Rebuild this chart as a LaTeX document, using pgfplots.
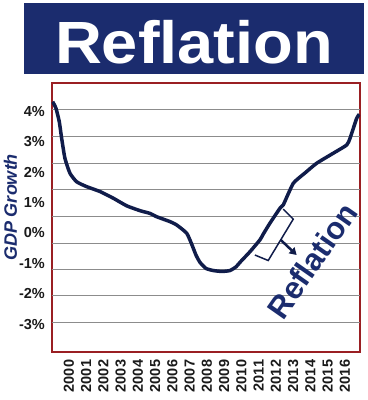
\documentclass[border=0pt]{standalone}
\usepackage{pgfplots}
\pgfplotsset{compat=1.18}
\usetikzlibrary{arrows.meta}
\usepackage{fontspec}
\setmainfont{Liberation Sans}
\definecolor{navy}{HTML}{1B2C6E}
\definecolor{curvecol}{HTML}{101C4A}
\definecolor{framecol}{HTML}{9A1F23}
\definecolor{gridcol}{HTML}{8C8C8C}
\definecolor{labcol}{HTML}{1A1A1A}
\begin{document}
\begin{tikzpicture}
\useasboundingbox (0bp,0bp) rectangle (368bp,400bp);
\fill[navy] (24.3bp,326bp) rectangle (364.3bp,397.3bp);
\node[anchor=base, text=white, inner sep=0pt] at (194bp,336.7bp) {\scalebox{1.09}[1]{\fontsize{59.6bp}{60bp}\selectfont\bfseries Reflation}};
\node[rotate=90, text=navy, inner sep=0pt] at (10.5bp,192.5bp) {\fontsize{18bp}{18bp}\selectfont\bfseries\itshape GDP Growth};
\begin{axis}[
  at={(51.7bp,48.3bp)}, anchor=south west,
  scale only axis, width=308.3bp, height=268.7bp,
  xmin=1999, xmax=2016.87, ymin=-3.91, ymax=4.93,
  axis line style={draw=framecol, line width=2bp},
  major tick length=0pt,
  xtick={2000,2001,...,2016},
  xticklabels={2000,2001,2002,2003,2004,2005,2006,2007,2008,2009,2010,2011,2012,2013,2014,2015,2016},
  xticklabel style={yshift=-8bp, rotate=90, anchor=east, inner sep=0pt, text=labcol, font=\fontsize{14.5bp}{14.5bp}\selectfont\bfseries},
  ytick={-3,-2,-1,0,1,2,3,4},
  yticklabels={-3\%,-2\%,-1\%,0\%,1\%,2\%,3\%,4\%},
  yticklabel style={anchor=east, inner sep=0pt, xshift=-6.7bp, text=labcol, font=\fontsize{14.5bp}{14.5bp}\selectfont\bfseries},
  extra y ticks={4.043,3.164,2.289,1.411,0.533,-0.342,-1.197,-2.076,-2.954},
  extra y tick labels={},
  extra y tick style={grid=major, major grid style={draw=gridcol, line width=1bp}},
]
\addplot[curvecol, line width=3.5bp, smooth, tension=0.3] coordinates {
(1999.055,4.316) (1999.246,4.10) (1999.438,3.66) (1999.577,3.11) (1999.768,2.45)
(2000.058,1.96) (2000.446,1.68) (2001.026,1.52) (2001.797,1.36) (2002.568,1.14)
(2003.345,0.89) (2004.116,0.73) (2004.696,0.64) (2005.084,0.53) (2005.855,0.37)
(2006.243,0.26) (2006.823,-0.01) (2007.113,-0.37) (2007.362,-0.73) (2007.594,-0.97)
(2007.942,-1.17) (2008.365,-1.24) (2008.87,-1.27) (2009.333,-1.24) (2009.681,-1.12)
(2009.913,-0.97) (2010.493,-0.62) (2011.072,-0.23) (2011.264,-0.04) (2011.652,0.32)
(2012.232,0.81) (2012.423,0.92) (2013.003,1.63) (2013.681,1.97) (2014.359,2.29)
(2015.322,2.62) (2016.099,2.89) (2016.29,3.11) (2016.678,3.77) (2016.829,3.90)
};
\draw[curvecol, line width=1.5bp] (axis cs:2010.78,-0.73) -- (axis cs:2011.55,-0.91) -- (axis cs:2013.0,0.45) -- (axis cs:2012.42,0.78);
\draw[curvecol, line width=2.5bp, -{Triangle[length=7bp,width=8bp]}] (axis cs:2012.27,-0.23) -- (axis cs:2013.2,-0.73);
\node[rotate=55, text=navy, inner sep=0pt] at (axis cs:2014.1,-0.91) {\fontsize{31bp}{31bp}\selectfont\bfseries Reflation};
\end{axis}
\end{tikzpicture}
\end{document}
